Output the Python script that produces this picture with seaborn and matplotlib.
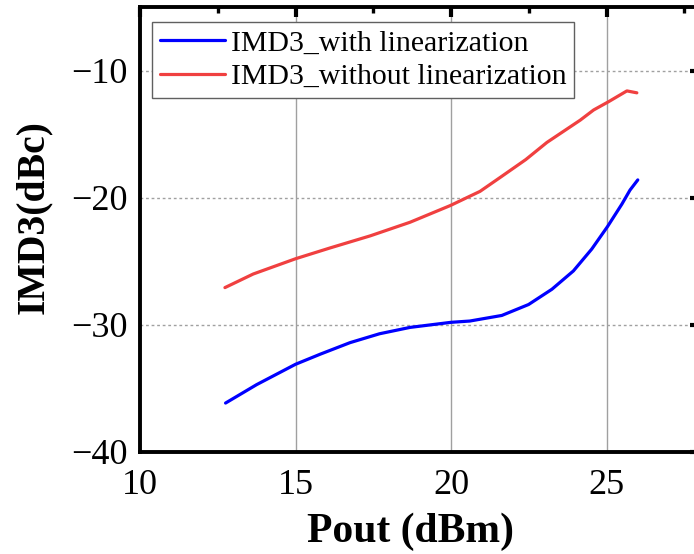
import matplotlib
matplotlib.use("Agg")
import matplotlib.pyplot as plt
from matplotlib.ticker import MultipleLocator
import seaborn as sns
import pandas as pd

# IMD3 versus output power
pout_lin = [12.75, 13.75, 15.0, 15.8, 16.75, 17.7, 18.68, 20.0, 20.6, 21.63,
            22.49, 23.24, 23.93, 24.52, 25.03, 25.49, 25.75, 26.0]
imd3_lin = [-36.15, -34.7, -33.1, -32.3, -31.4, -30.7, -30.2, -29.8, -29.7, -29.26,
            -28.4, -27.2, -25.76, -24.04, -22.26, -20.5, -19.4, -18.6]

pout_nolin = [12.73, 13.64, 15.0, 16.11, 17.4, 18.68, 19.97, 20.93, 21.58, 22.4,
              23.08, 24.15, 24.58, 25.06, 25.65, 25.97]
imd3_nolin = [-27.07, -26.0, -24.8, -23.95, -23.0, -21.93, -20.62, -19.5, -18.4, -17.0,
              -15.65, -13.9, -13.1, -12.45, -11.6, -11.75]

labels = ["IMD3_with linearization", "IMD3_without linearization"]

df = pd.concat([
    pd.DataFrame({"Pout": pout_lin, "IMD3": imd3_lin, "curve": labels[0]}),
    pd.DataFrame({"Pout": pout_nolin, "IMD3": imd3_nolin, "curve": labels[1]}),
], ignore_index=True)

sns.set_style("white")
plt.rcParams["font.family"] = ["Liberation Serif", "DejaVu Serif"]
plt.rcParams["axes.unicode_minus"] = True
plt.rcParams["text.color"] = "black"
plt.rcParams["axes.labelcolor"] = "black"
plt.rcParams["xtick.color"] = "black"
plt.rcParams["ytick.color"] = "black"

fig = plt.figure(figsize=(6.94, 5.54), dpi=100)
ax = fig.add_axes([140 / 694, 1 - 452 / 554, 560 / 694, 445 / 554])

sns.lineplot(data=df, x="Pout", y="IMD3", hue="curve", sort=False,
             palette={labels[0]: "#0000ff", labels[1]: "#f04040"},
             linewidth=2.3, ax=ax, estimator=None)

ax.set_xlim(10, 28)
ax.set_ylim(-40, -5)
ax.xaxis.set_major_locator(MultipleLocator(5))
ax.xaxis.set_minor_locator(MultipleLocator(2.5))
ax.yaxis.set_major_locator(MultipleLocator(10))
ax.yaxis.set_minor_locator(MultipleLocator(5))

ax.xaxis.grid(True, which="major", color="#a0a0a0", linestyle="-", linewidth=1.0)
ax.yaxis.grid(True, which="major", color="#a0a0a0", linestyle=(0, (2, 2)), linewidth=1.0)
ax.set_axisbelow(True)

for s in ax.spines.values():
    s.set_linewidth(2.8)
    s.set_color("black")

ax.tick_params(which="major", direction="in", length=7, width=3,
               top=True, right=True, labelsize=26, colors="black")
ax.tick_params(which="minor", direction="in", length=4, width=2.4,
               top=True, right=True, colors="black")
ax.tick_params(axis="x", which="major", pad=12)
ax.tick_params(axis="y", which="major", pad=9)

ax.set_xlabel("Pout (dBm)", fontsize=30, fontweight="bold", color="black")
ax.set_ylabel("IMD3(dBc)", fontsize=28.5, fontweight="bold", color="black")
ax.xaxis.set_label_coords(270 / 560, -61 / 445)
ax.yaxis.set_label_coords(-88 / 560, 235 / 445)

leg = ax.legend(loc="upper left", fontsize=21.5, frameon=True, fancybox=False,
                edgecolor="#606060", framealpha=1, handlelength=2.17,
                borderaxespad=0.0, borderpad=0.26, labelspacing=0.22,
                handletextpad=0.2, bbox_to_anchor=(12 / 560, 1 - 15 / 445))
leg.get_frame().set_linewidth(1.0)
for t in leg.get_texts():
    t.set_color("black")

fig.savefig("out.png", dpi=100)
